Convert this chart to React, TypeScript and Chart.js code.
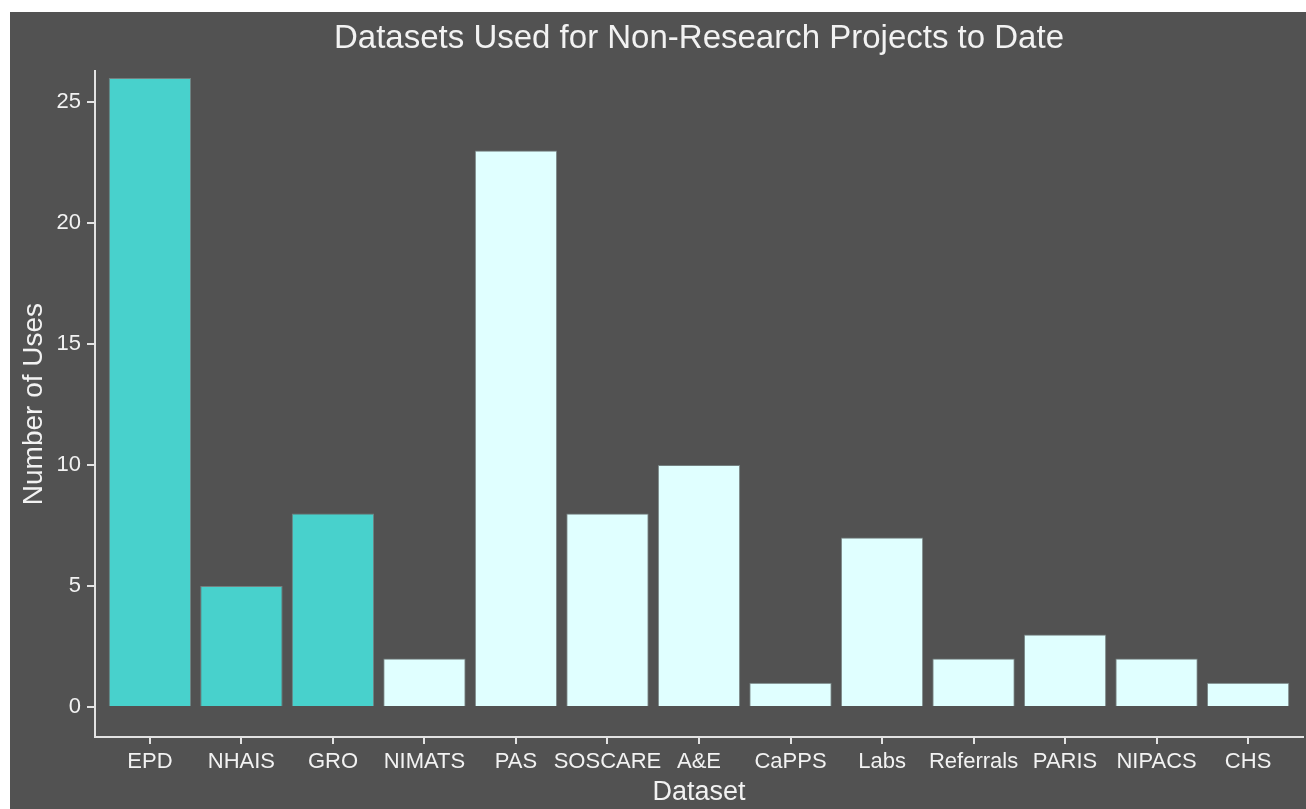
import React, { useEffect, useRef } from "react";
import { Chart, registerables } from "chart.js";

Chart.register(...registerables);

const categories = ["EPD", "NHAIS", "GRO", "NIMATS", "PAS", "SOSCARE", "A&E", "CaPPS", "Labs", "Referrals", "PARIS", "NIPACS", "CHS"];
const uses = [26, 5, 8, 2, 23, 8, 10, 1, 7, 2, 3, 2, 1];
const groups = ["a", "a", "a", "b", "b", "b", "b", "b", "b", "b", "b", "b", "b"];
const yTicks = [0, 5, 10, 15, 20, 25];

const groupColors: Record<string, string> = { a: "#48D1CC", b: "#E0FFFF" };
const BG = "#525252";
const TEXT = "#f2f2f2";
const AXIS = "#e3e3e3";
const FONT = "'Liberation Sans', Arial, sans-serif";

export default function App() {
  const ref = useRef<HTMLCanvasElement | null>(null);
  useEffect(() => {
    if (!ref.current) return;
    const chart = new Chart(ref.current, {
      type: "bar",
      data: {
        datasets: [
          {
            data: uses.map((v, i) => ({ x: i, y: v })),
            backgroundColor: groups.map((g) => groupColors[g]),
            borderColor: "rgba(140,160,160,0.6)",
            borderWidth: 1,
            barPercentage: 0.9,
            categoryPercentage: 1,
          },
        ],
      },
      options: {
        responsive: false,
        animation: false,
        layout: { padding: { left: 0, right: 3, top: 0, bottom: 0 } },
        plugins: {
          legend: { display: false },
          tooltip: { enabled: false },
          title: {
            display: true,
            text: "Datasets Used for Non-Research Projects to Date",
            color: TEXT,
            fullSize: false,
            font: { family: FONT, size: 33, weight: "normal" },
            padding: { top: 7.5, bottom: 12 },
          },
        },
        scales: {
          x: {
            type: "linear",
            min: -0.6,
            max: 12.6,
            offset: false,
            afterBuildTicks: (s: any) => {
              s.ticks = categories.map((_, i) => ({ value: i }));
            },
            afterFit: (s: any) => {
              s.height = 72;
            },
            ticks: {
              color: TEXT,
              font: { family: FONT, size: 22 },
              padding: 5,
              maxRotation: 0,
              autoSkip: false,
              callback: (v: any) => categories[Math.round(Number(v))] ?? "",
            },
            grid: { display: true, offset: false, drawOnChartArea: false, drawTicks: true, tickLength: 7, color: AXIS, lineWidth: 2 },
            border: { display: true, color: AXIS, width: 2 },
            title: {
              display: true,
              text: "Dataset",
              color: TEXT,
              font: { family: FONT, size: 27 },
              padding: { top: 0, bottom: 0 },
            },
          },
          y: {
            min: -1.24,
            max: 26.28,
            afterBuildTicks: (s: any) => {
              s.ticks = yTicks.map((v) => ({ value: v }));
            },
            afterFit: (s: any) => {
              s.width = 85;
            },
            ticks: {
              color: TEXT,
              font: { family: FONT, size: 22 },
              padding: 6,
            },
            grid: { display: true, drawOnChartArea: false, drawTicks: true, tickLength: 8, color: AXIS, lineWidth: 2 },
            border: { display: true, color: AXIS, width: 2 },
            title: {
              display: true,
              text: "Number of Uses",
              color: TEXT,
              font: { family: FONT, size: 28 },
              padding: { top: 7, bottom: 0 },
            },
          },
        },
      },
    } as any);
    return () => chart.destroy();
  }, []);

  return (
    <div style={{ position: "absolute", left: 10, top: 12, width: 1296, height: 797, background: BG }}>
      <canvas ref={ref} width={1296} height={797} style={{ display: "block" }} />
    </div>
  );
}
